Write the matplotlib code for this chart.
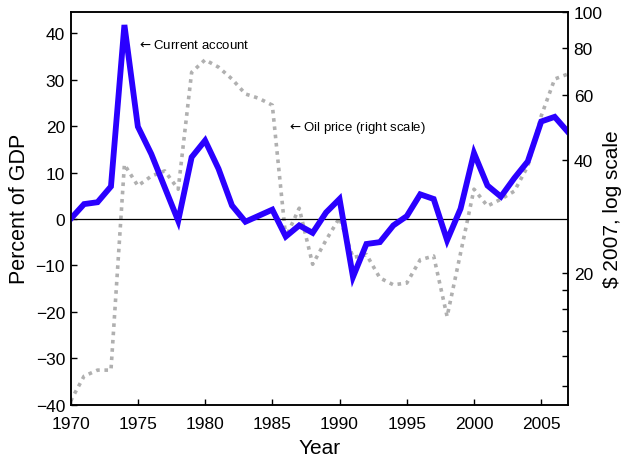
"""Current account surplus against the real oil price, 1970-2007."""

import matplotlib

matplotlib.use("Agg")
import matplotlib.pyplot as plt
from matplotlib.ticker import FixedLocator, NullFormatter

plt.rcParams["font.family"] = ["Liberation Sans", "DejaVu Sans"]

years = list(range(1970, 2008))

# current account, percent of GDP
current_account = [
    0.0, 3.2, 3.6, 7.0, 41.8, 19.9, 14.0, 6.8, -0.4, 13.3,
    16.9, 10.8, 2.9, -0.6, 0.7, 2.0, -3.8, -1.4, -3.0, 1.4,
    4.3, -12.5, -5.4, -5.0, -1.4, 0.6, 5.3, 4.3, -4.6, 2.2,
    14.2, 7.2, 4.8, 8.8, 12.4, 21.0, 22.0, 18.7,
]

# oil price, 2007 dollars
oil_price = [
    9.1, 10.6, 11.0, 11.0, 39.0, 34.2, 36.3, 37.5, 33.5, 68.8,
    74.3, 71.0, 66.0, 60.2, 58.6, 56.2, 24.9, 29.8, 21.1, 24.5,
    28.1, 22.0, 22.4, 19.4, 18.6, 18.8, 21.7, 22.2, 15.3, 22.6,
    33.5, 30.2, 31.5, 33.1, 38.6, 52.6, 66.0, 68.1,
]

left_ticks = [-40, -30, -20, -10, 0, 10, 20, 30, 40]
right_major = [20, 40, 60, 80, 100]
right_minor = [10, 12, 14, 16, 18]
year_ticks = [1970, 1975, 1980, 1985, 1990, 1995, 2000, 2005]

fig = plt.figure(figsize=(6.25, 4.64), dpi=100)
ax = fig.add_axes([0.113, 0.126, 0.796, 0.847])
ax2 = ax.twinx()

ax2.plot(years, oil_price, color="#b0b0b0", lw=2.6, ls=(0, (1, 1.3)), zorder=1)
ax2.set_yscale("log")
ax2.set_ylim(8.9, 100)
ax2.yaxis.set_major_locator(FixedLocator(right_major))
ax2.yaxis.set_minor_locator(FixedLocator(right_minor))
ax2.yaxis.set_minor_formatter(NullFormatter())
ax2.set_yticklabels([str(v) for v in right_major])
ax2.set_ylabel("$ 2007, log scale", fontsize=15, labelpad=0)

ax.set_zorder(ax2.get_zorder() + 1)
ax.patch.set_visible(False)
ax.axhline(0, color="black", lw=0.9, zorder=1)
ax.plot(years, current_account, color="#2a00ff", lw=4.2,
        solid_joinstyle="miter", zorder=2)
ax.set_xlim(1970, 2007)
ax.set_ylim(-40, 44.7)
ax.set_xticks(year_ticks)
ax.set_yticks(left_ticks)
ax.set_xlabel("Year", fontsize=15, labelpad=5)
ax.set_ylabel("Percent of GDP", fontsize=15.5, labelpad=4)

ax.annotate("$\\leftarrow$Current account", xy=(1974.9, 37.7), fontsize=9.5,
            va="center", ha="left")
ax.annotate("$\\leftarrow$Oil price (right scale)", xy=(1986.1, 19.8),
            fontsize=9.5, va="center", ha="left")

for a in (ax, ax2):
    a.tick_params(direction="in", length=4, width=1, labelsize=12.5, pad=4)
    a.tick_params(which="minor", direction="in", length=4, width=1)
    for s in a.spines.values():
        s.set_linewidth(1.1)
ax.tick_params(axis="x", pad=8)

fig.savefig("out.png", dpi=100)
